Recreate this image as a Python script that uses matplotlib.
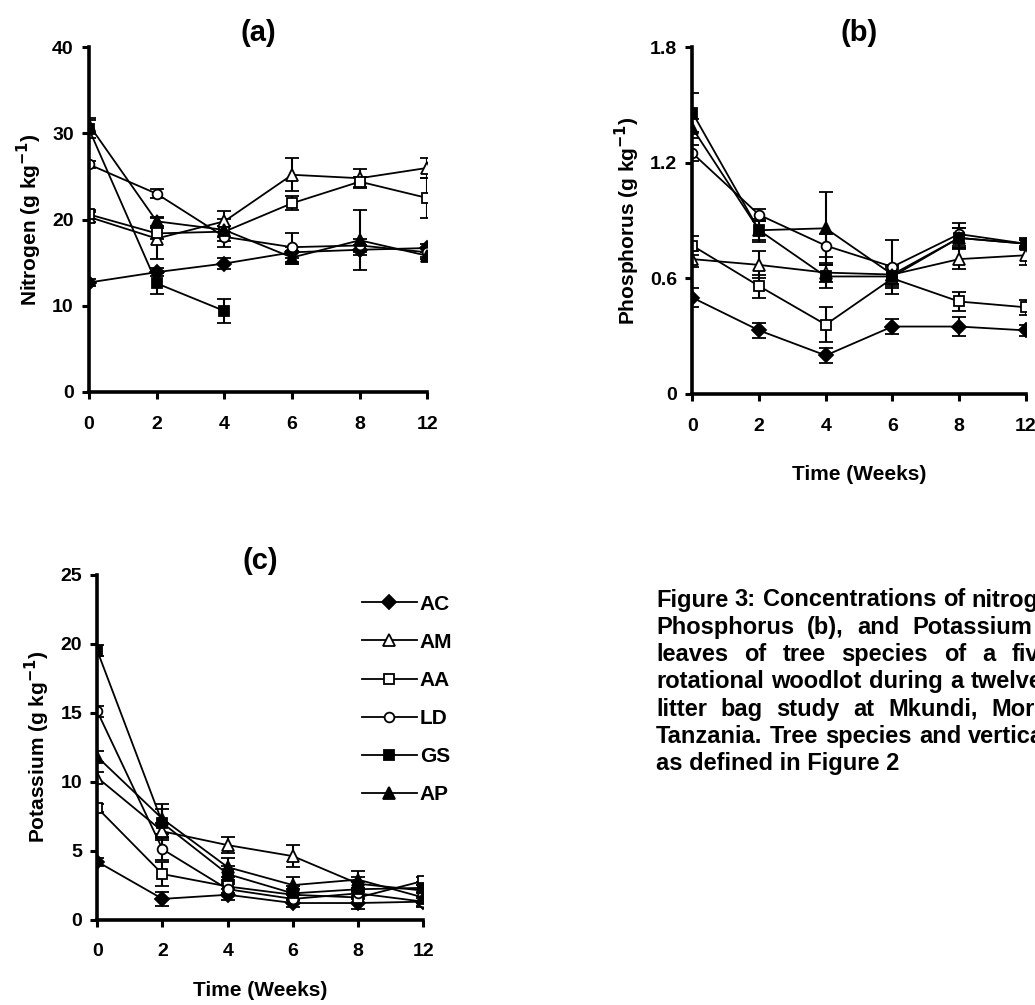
import matplotlib
matplotlib.use("Agg")
import matplotlib.pyplot as plt
import numpy as np

plt.rcParams['font.family'] = ['Liberation Sans', 'DejaVu Sans']
plt.rcParams['font.weight'] = 'bold'
plt.rcParams['mathtext.default'] = 'bf'

weeks = ["0", "2", "4", "6", "8", "12"]
species = ["AC", "AM", "AA", "LD", "GS", "AP"]

# nitrogen (g/kg), GS only sampled to week 4
n_ac = [12.7, 13.9, 14.9, 16.2, 16.5, 16.7]
n_am = [20.3, 17.8, 19.8, 25.2, 24.8, 26.0]
n_aa = [20.6, 18.4, 18.6, 21.9, 24.4, 22.5]
n_ld = [26.4, 23.0, 18.0, 16.8, 17.0, 16.2]
n_gs = [30.5, 12.6, 9.4]
n_ap = [31.0, 19.8, 18.8, 15.6, 17.6, 15.8]
n_ac_se = [0.4, 0.5, 0.6, 0.6, 0.6, 0.5]
n_am_se = [0.6, 2.4, 1.2, 1.9, 1.1, 1.2]
n_aa_se = [0.5, 0.6, 0.6, 0.8, 0.6, 2.3]
n_ld_se = [0.4, 0.5, 1.2, 1.7, 0.8, 0.5]
n_gs_se = [1.0, 1.2, 1.4]
n_ap_se = [0.8, 0.5, 1.3, 0.8, 3.5, 0.4]

# phosphorus (g/kg)
p_ac = [0.50, 0.33, 0.20, 0.35, 0.35, 0.33]
p_am = [0.70, 0.67, 0.63, 0.62, 0.70, 0.72]
p_aa = [0.77, 0.56, 0.36, 0.60, 0.48, 0.45]
p_ld = [1.25, 0.93, 0.77, 0.66, 0.83, 0.78]
p_gs = [1.46, 0.85, 0.61, 0.61, 0.81, 0.78]
p_ap = [1.38, 0.85, 0.86, 0.62, 0.81, 0.78]
p_ac_se = [0.05, 0.04, 0.04, 0.04, 0.05, 0.03]
p_am_se = [0.04, 0.07, 0.05, 0.05, 0.05, 0.05]
p_aa_se = [0.05, 0.06, 0.09, 0.05, 0.05, 0.04]
p_ld_se = [0.04, 0.03, 0.06, 0.14, 0.06, 0.03]
p_gs_se = [0.10, 0.06, 0.06, 0.05, 0.05, 0.02]
p_ap_se = [0.05, 0.05, 0.19, 0.05, 0.05, 0.02]

# potassium (g/kg)
k_ac = [4.2, 1.5, 1.8, 1.2, 1.2, 1.3]
k_am = [10.3, 6.4, 5.4, 4.6, 2.6, 2.1]
k_aa = [8.1, 3.3, 2.4, 1.8, 1.6, 2.8]
k_ld = [15.1, 5.1, 2.2, 1.5, 1.9, 1.3]
k_gs = [19.5, 7.0, 3.3, 1.9, 2.2, 2.3]
k_ap = [11.8, 7.3, 3.8, 2.5, 2.9, 1.6]
k_ac_se = [0.3, 0.5, 0.4, 0.3, 0.4, 0.4]
k_am_se = [0.4, 0.6, 0.6, 0.8, 0.5, 0.4]
k_aa_se = [0.3, 0.9, 0.5, 0.4, 0.4, 0.3]
k_ld_se = [0.4, 0.8, 0.4, 0.3, 0.4, 0.3]
k_gs_se = [0.4, 1.0, 0.6, 0.5, 0.5, 0.4]
k_ap_se = [0.4, 1.1, 0.7, 0.6, 0.6, 0.4]

caption = [
    "Figure 3: Concentrations of nitrogen (a),",
    "Phosphorus (b), and Potassium (c) in",
    "leaves of tree species of a five-year",
    "rotational woodlot during a twelve-week",
    "litter bag study at Mkundi, Morogoro,",
    "Tanzania. Tree species and vertical bars",
    "as defined in Figure 2",
]

# marker, face colour, size
styles = {
    "AC": ("D", "black", 7),
    "AM": ("^", "white", 8),
    "AA": ("s", "white", 7),
    "LD": ("o", "white", 7),
    "GS": ("s", "black", 7),
    "AP": ("^", "black", 8),
}


def panel(ax, series, errors, ymax, ystep, ylabel, title, xlabel=None, xpad=20):
    handles = []
    for name, vals, err in zip(species, series, errors):
        m, fc, ms = styles[name]
        x = np.arange(len(vals))
        c = ax.errorbar(x, vals, yerr=err, color="black", lw=1.3,
                        marker=m, mfc=fc, mec="black", mew=1.3, ms=ms,
                        capsize=5, capthick=1.5, elinewidth=1.5)
        handles.append(c.lines[0])
    ax.set_xlim(0, 5)
    ax.set_ylim(0, ymax)
    ax.set_xticks(range(6))
    ax.set_xticklabels(weeks)
    ax.set_yticks(np.arange(0, ymax + ystep / 2, ystep))
    if ystep < 1:
        ax.set_yticklabels(["0"] + ["%.1f" % v for v in np.arange(ystep, ymax + ystep / 2, ystep)])
    for s in ["top", "right"]:
        ax.spines[s].set_visible(False)
    for s in ["left", "bottom"]:
        ax.spines[s].set_linewidth(2.6)
    ax.tick_params(direction="out", length=5, width=2.2, labelsize=14, pad=6)
    ax.tick_params(axis="x", pad=12)
    ax.set_ylabel(ylabel, fontsize=15, fontweight="bold", labelpad=6)
    ax.set_title(title, fontsize=21, fontweight="bold", pad=2)
    if xlabel:
        ax.set_xlabel(xlabel, fontsize=15, fontweight="bold", labelpad=xpad)
    for lab in ax.get_xticklabels() + ax.get_yticklabels():
        lab.set_fontweight("bold")
    return handles


fig = plt.figure(figsize=(10.35, 10.05), dpi=100)

ax_a = fig.add_axes([0.086, 0.610, 0.327, 0.343])
ax_b = fig.add_axes([0.669, 0.608, 0.322, 0.345])
ax_c = fig.add_axes([0.094, 0.085, 0.315, 0.343])

panel(ax_a, [n_ac, n_am, n_aa, n_ld, n_gs, n_ap],
      [n_ac_se, n_am_se, n_aa_se, n_ld_se, n_gs_se, n_ap_se],
      40, 10, r"Nitrogen (g kg$^{-1}$)", "(a)")
panel(ax_b, [p_ac, p_am, p_aa, p_ld, p_gs, p_ap],
      [p_ac_se, p_am_se, p_aa_se, p_ld_se, p_gs_se, p_ap_se],
      1.8, 0.6, r"Phosphorus (g kg$^{-1}$)", "(b)", "Time (Weeks)", xpad=22)
hs = panel(ax_c, [k_ac, k_am, k_aa, k_ld, k_gs, k_ap],
           [k_ac_se, k_am_se, k_aa_se, k_ld_se, k_gs_se, k_ap_se],
           25, 5, r"Potassium (g kg$^{-1}$)", "(c)", "Time (Weeks)", xpad=15)

fig.legend(hs, species, loc="upper left", bbox_to_anchor=(0.332, 0.427),
           frameon=False, handlelength=2.6, labelspacing=0.92,
           handletextpad=0.15, prop={"weight": "bold", "size": 15})

# justified caption block on the right
fig.canvas.draw()
r = fig.canvas.get_renderer()
x0, y0, dy = 656, 600, 27.3
W, H = fig.bbox.width, fig.bbox.height
fs = 17


def width_of(s):
    t = fig.text(0, 0, s, fontsize=fs, fontweight="bold")
    w = t.get_window_extent(r).width
    t.remove()
    return w


natural = [width_of(l) for l in caption]
target = max(natural)
for i, line in enumerate(caption):
    y = 1 - (y0 + i * dy) / H
    words = line.split()
    if i == len(caption) - 1:
        fig.text(x0 / W, y, line, fontsize=fs, fontweight="bold", va="center")
        continue
    ww = [width_of(w) for w in words]
    gap = (target - sum(ww)) / (len(words) - 1)
    x = x0
    for w, wd in zip(words, ww):
        fig.text(x / W, y, w, fontsize=fs, fontweight="bold", va="center")
        x += wd + gap

fig.savefig("out.png", dpi=100)
